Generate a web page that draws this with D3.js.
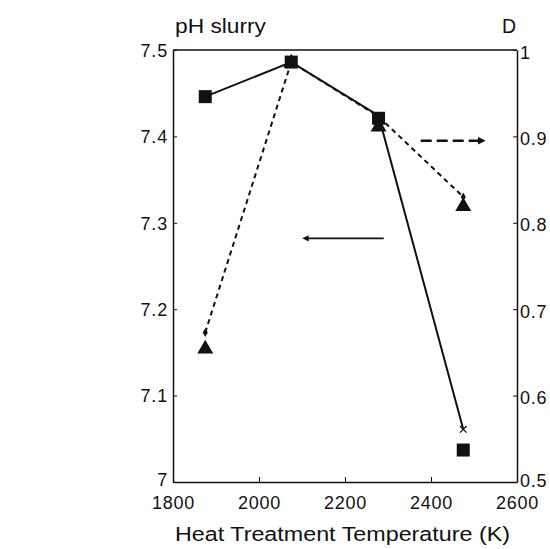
<!DOCTYPE html>
<html><head><meta charset="utf-8">
<script src="https://cdn.jsdelivr.net/npm/d3@7"></script>
<style>body{margin:0;background:#fff}svg{display:block}text{font-family:"Liberation Sans",Arial,sans-serif;fill:#111}</style>
</head><body>
<script>
// Data
const temps = [1875, 2075, 2278, 2475];
const phMarkers = [7.446, 7.486, 7.421, 7.037];      // squares (left axis)
const phLine = [7.446, 7.486, 7.424, 7.061];         // solid line vertices
const dMarkers = [0.654, 0.985, 0.911, 0.819];       // triangles (right axis)
const dLine = [0.673, 0.986, 0.923, 0.830];          // dashed line vertices
const xTicks = [1800, 2000, 2200, 2400, 2600];
const phTicks = [7, 7.1, 7.2, 7.3, 7.4, 7.5];
const dTicks = [0.5, 0.6, 0.7, 0.8, 0.9, 1];

const W = 550, H = 549;
const svg = d3.select("body").append("svg").attr("width", W).attr("height", H);
const x = d3.scaleLinear().domain([1800, 2600]).range([173, 517]);
const yL = d3.scaleLinear().domain([7, 7.5]).range([482, 50]);
const yR = d3.scaleLinear().domain([0.5, 1]).range([482, 50]);

const ink = "#111";
// frame
svg.append("line").attr("x1", x(1800)).attr("x2", x(2600)).attr("y1", yL(7.5)).attr("y2", yL(7.5)).attr("stroke", ink).attr("stroke-width", 1.3);

const gx = svg.append("g").attr("transform", `translate(0,${yL(7)})`)
  .call(d3.axisBottom(x).tickValues(xTicks).tickSizeInner(-5).tickSizeOuter(0).tickPadding(14).tickFormat(d3.format("d")));
const gl = svg.append("g").attr("transform", `translate(${x(1800)},0)`)
  .call(d3.axisLeft(yL).tickValues(phTicks).tickSizeInner(-4).tickSizeOuter(0).tickPadding(5).tickFormat(d => d3.format("")(d)));
const gr = svg.append("g").attr("transform", `translate(${x(2600)},0)`)
  .call(d3.axisRight(yR).tickValues(dTicks).tickSizeInner(-4).tickSizeOuter(0).tickPadding(3).tickFormat(d => d3.format("")(d)));
[gx, gl, gr].forEach(g => {
  g.select(".domain").attr("stroke", ink).attr("stroke-width", 1.5);
  g.selectAll(".tick line").attr("stroke", ink).attr("stroke-width", 1);
  g.selectAll("text").attr("font-size", 18).attr("letter-spacing", "0.8px").attr("fill", ink)
   .attr("font-family", "'Liberation Sans',Arial,sans-serif");
});
gx.selectAll(".tick text").attr("dy", "0.71em");
gr.selectAll(".tick text").attr("dy", d => d === 0.5 ? "0.25em" : "0.45em");
gl.selectAll(".tick text").attr("dy", d => d === 7 ? "0.2em" : "0.35em");

// dashed D line
const lineR = d3.line().x((d, i) => x(temps[i])).y(d => yR(d));
svg.append("path").datum(dLine).attr("d", lineR).attr("fill", "none")
  .attr("stroke", ink).attr("stroke-width", 2).attr("stroke-dasharray", "5,4");
// solid pH line
const lineL = d3.line().x((d, i) => x(temps[i])).y(d => yL(d));
svg.append("path").datum(phLine).attr("d", lineL).attr("fill", "none")
  .attr("stroke", ink).attr("stroke-width", 2);

// small end marks
const sym = d3.symbol().type(d3.symbolX).size(30);
svg.append("path").attr("d", sym).attr("transform", `translate(${x(temps[3])},${yL(phLine[3])})`).attr("stroke", ink).attr("stroke-width", 1.3);
svg.append("path").attr("d", d3.symbol().type(d3.symbolDiamond).size(22)).attr("transform", `translate(${x(temps[0])},${yR(dLine[0])})`).attr("fill", ink);
svg.append("path").attr("d", d3.symbol().type(d3.symbolDiamond).size(22)).attr("transform", `translate(${x(temps[3])},${yR(dLine[3])})`).attr("fill", ink);

// triangles
const tri = d3.symbol().type(d3.symbolTriangle).size(110);
svg.selectAll(".tri").data(dMarkers).join("path").attr("class", "tri")
  .attr("d", tri).attr("transform", (d, i) => `translate(${x(temps[i])},${yR(d)})`).attr("fill", ink);
// squares
svg.selectAll(".sq").data(phMarkers).join("rect").attr("class", "sq")
  .attr("x", (d, i) => x(temps[i]) - 6.5).attr("y", d => yL(d) - 6.5)
  .attr("width", 13).attr("height", 13).attr("fill", ink);

// arrows
const defs = svg.append("defs");
defs.append("marker").attr("id", "ah").attr("viewBox", "0 0 10 10").attr("refX", 5).attr("refY", 5)
  .attr("markerWidth", 3).attr("markerHeight", 3).attr("orient", "auto")
  .append("path").attr("d", "M0,0L10,5L0,10z").attr("fill", ink);
defs.append("marker").attr("id", "ah2").attr("viewBox", "0 0 10 10").attr("refX", 5).attr("refY", 5)
  .attr("markerWidth", 5).attr("markerHeight", 4).attr("orient", "auto")
  .append("path").attr("d", "M0,0L10,5L0,10z").attr("fill", ink);
svg.append("line").attr("x1", x(2376)).attr("x2", x(2518)).attr("y1", yR(0.895)).attr("y2", yR(0.895))
  .attr("stroke", ink).attr("stroke-width", 2.6).attr("stroke-dasharray", "11,5").attr("marker-end", "url(#ah)");
svg.append("line").attr("x1", x(2290)).attr("x2", x(2108)).attr("y1", yL(7.282)).attr("y2", yL(7.282))
  .attr("stroke", ink).attr("stroke-width", 1.6).attr("marker-end", "url(#ah2)");

// titles
svg.append("text").attr("x", 175).attr("y", 33).attr("font-size", 19.5)
  .attr("textLength", 91).attr("lengthAdjust", "spacingAndGlyphs").text("pH slurry");
svg.append("text").attr("x", 502).attr("y", 33).attr("font-size", 19.5).text("D");
svg.append("text").attr("x", 175).attr("y", 541).attr("font-size", 19.5)
  .attr("textLength", 335).attr("lengthAdjust", "spacingAndGlyphs").text("Heat Treatment Temperature (K)");
</script>
</body></html>
